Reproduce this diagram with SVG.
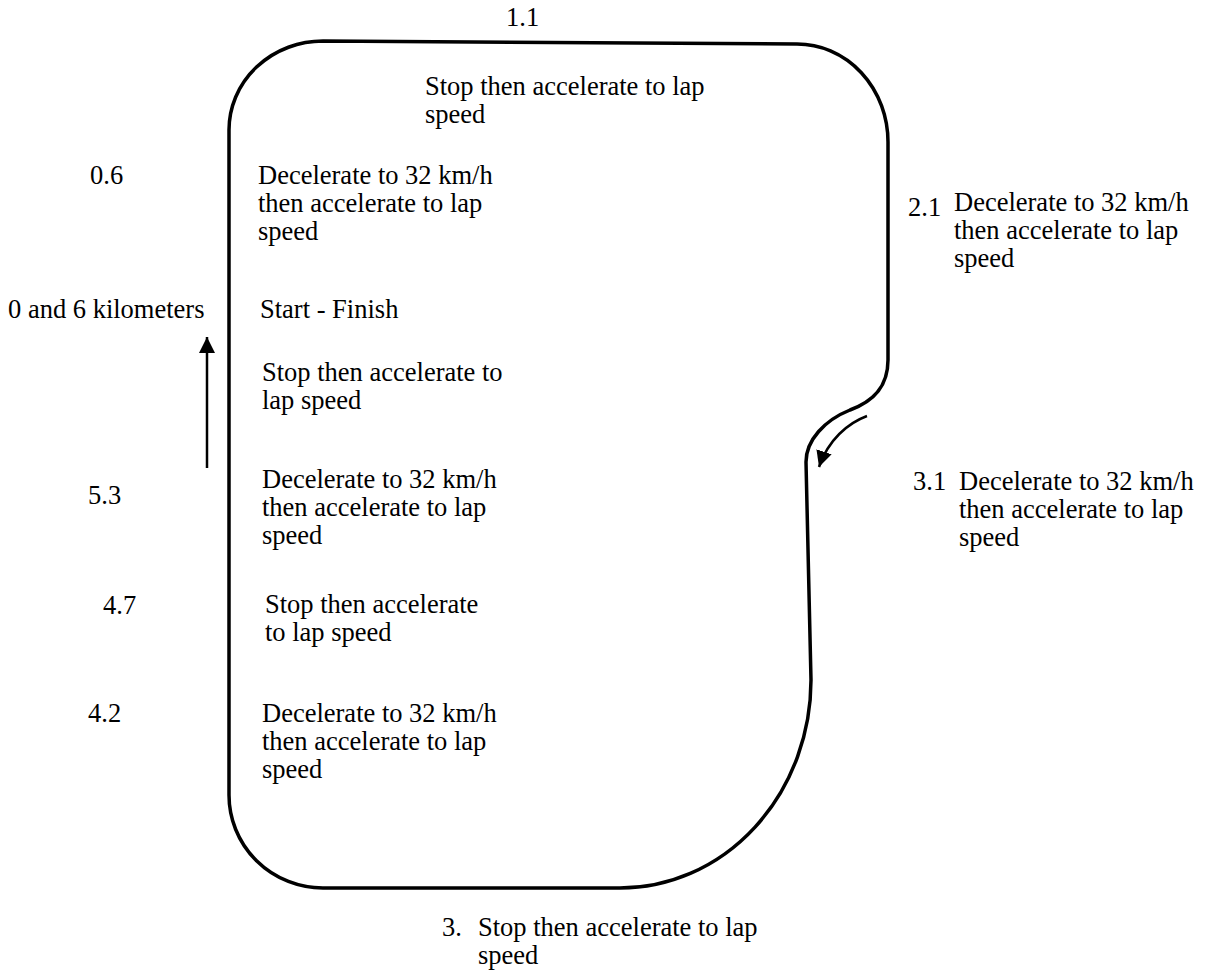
<svg xmlns="http://www.w3.org/2000/svg" width="1205" height="980" viewBox="0 0 1205 980">
<style>
.lbl text{font-family:'Liberation Serif','DejaVu Serif',serif;font-size:26.5px;fill:#000}
.track{fill:none;stroke:#000;stroke-width:3.5}
.arr{fill:none;stroke:#000;stroke-width:2.5}
</style>
<defs>
<marker id="ah" markerUnits="userSpaceOnUse" markerWidth="18" markerHeight="16" refX="16" refY="8" orient="auto">
<path d="M0,0 L16,8 L0,16 Z" fill="#000"/>
</marker>
</defs>
<rect width="1205" height="980" fill="#fff"/>
<g id="track">
<path class="track" d="M323,41 L797,44 A91,98 0 0 1 888,142 L888,360 C888,388 872,402 850,410 C825,420 806,440 806,462 L811,680 A191,208 0 0 1 620,888 L323,888 A94,93 0 0 1 229,795 L229,130 A94,89 0 0 1 323,41 Z"/>
</g>
<g id="connectors">
<path class="arr" d="M207,468 L207,337" marker-end="url(#ah)"/>
<path class="arr" stroke-width="3" d="M867,416 C848,423 828,440 819,467" marker-end="url(#ah)"/>
</g>
<g class="lbl" font-family="Liberation Serif, serif" font-size="26.5">
<g id="label-top">
<text x="506" y="26">1.1</text>
<text x="425" y="95">Stop then accelerate to lap</text>
<text x="425" y="123">speed</text>
</g>
<g id="label-0-6">
<text x="90" y="184">0.6</text>
<text x="258" y="184">Decelerate to 32 km/h</text>
<text x="258" y="212">then accelerate to lap</text>
<text x="258" y="240">speed</text>
</g>
<g id="label-start">
<text x="8" y="318">0 and 6 kilometers</text>
<text x="260" y="318">Start - Finish</text>
<text x="262" y="381">Stop then accelerate to</text>
<text x="262" y="409">lap speed</text>
</g>
<g id="label-5-3">
<text x="88" y="504">5.3</text>
<text x="262" y="488">Decelerate to 32 km/h</text>
<text x="262" y="516">then accelerate to lap</text>
<text x="262" y="544">speed</text>
</g>
<g id="label-4-7">
<text x="103" y="614">4.7</text>
<text x="265" y="613">Stop then accelerate</text>
<text x="265" y="641">to lap speed</text>
</g>
<g id="label-4-2">
<text x="88" y="722">4.2</text>
<text x="262" y="722">Decelerate to 32 km/h</text>
<text x="262" y="750">then accelerate to lap</text>
<text x="262" y="778">speed</text>
</g>
<g id="label-2-1">
<text x="908" y="216">2.1</text>
<text x="954" y="211">Decelerate to 32 km/h</text>
<text x="954" y="239">then accelerate to lap</text>
<text x="954" y="267">speed</text>
</g>
<g id="label-3-1">
<text x="913" y="490">3.1</text>
<text x="959" y="490">Decelerate to 32 km/h</text>
<text x="959" y="518">then accelerate to lap</text>
<text x="959" y="546">speed</text>
</g>
<g id="label-3">
<text x="442" y="936">3.</text>
<text x="478" y="936">Stop then accelerate to lap</text>
<text x="478" y="964">speed</text>
</g>
</g>
</svg>
